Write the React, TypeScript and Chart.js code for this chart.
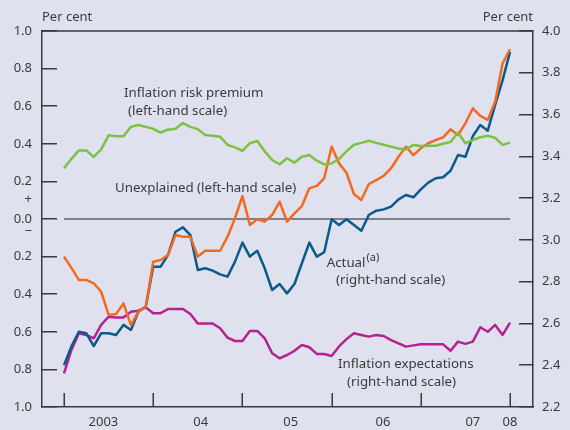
import React, { useEffect, useRef } from 'react';
import { Chart, registerables } from 'chart.js';

Chart.register(...registerables);

// Monthly observations, Jan 2003 (index 0) to Jan 2008 (index 60)
const monthIndex: number[] = Array.from({ length: 61 }, (_, i) => i);

// Left-hand scale, per cent
const riskPremium: number[] = [
  0.27, 0.32, 0.365, 0.365, 0.33, 0.37, 0.445, 0.44, 0.44, 0.49,
  0.5, 0.49, 0.48, 0.46, 0.475, 0.48, 0.51, 0.49, 0.478, 0.447,
  0.443, 0.438, 0.394, 0.381, 0.363, 0.403, 0.415, 0.36, 0.314, 0.291,
  0.323, 0.3, 0.331, 0.34, 0.31, 0.29, 0.295, 0.32, 0.36, 0.395,
  0.405, 0.416, 0.405, 0.395, 0.385, 0.375, 0.37, 0.394, 0.388, 0.39,
  0.39, 0.4, 0.41, 0.46, 0.403, 0.42, 0.435, 0.443, 0.432, 0.394,
  0.406,
];

const unexplained: number[] = [
  -0.2, -0.26, -0.324, -0.324, -0.342, -0.387, -0.51, -0.505, -0.449, -0.564,
  -0.493, -0.466, -0.227, -0.218, -0.191, -0.085, -0.094, -0.094, -0.2, -0.169,
  -0.169, -0.169, -0.094, 0.004, 0.122, -0.032, -0.002, -0.014, 0.021, 0.092,
  -0.014, 0.03, 0.069, 0.163, 0.176, 0.216, 0.385, 0.296, 0.246, 0.133,
  0.101, 0.186, 0.207, 0.229, 0.27, 0.331, 0.385, 0.34, 0.376, 0.403,
  0.42, 0.434, 0.477, 0.447, 0.509, 0.589, 0.548, 0.527, 0.624, 0.828,
  0.903,
];

// Right-hand scale, per cent
const actual: number[] = [
  2.4, 2.49, 2.56, 2.553, 2.492, 2.553, 2.553, 2.545, 2.593, 2.569,
  2.656, 2.68, 2.872, 2.872, 2.928, 3.039, 3.06, 3.023, 2.856, 2.864,
  2.853, 2.835, 2.824, 2.896, 2.987, 2.92, 2.948, 2.864, 2.76, 2.789,
  2.744, 2.789, 2.888, 2.987, 2.92, 2.941, 3.099, 3.071, 3.099, 3.071,
  3.044, 3.119, 3.14, 3.146, 3.159, 3.194, 3.215, 3.204, 3.242, 3.274,
  3.295, 3.3, 3.331, 3.406, 3.398, 3.497, 3.55, 3.523, 3.646, 3.765,
  3.9,
];

const expectations: number[] = [
  2.361, 2.473, 2.553, 2.545, 2.529, 2.593, 2.632, 2.629, 2.629, 2.656,
  2.661, 2.677, 2.649, 2.649, 2.669, 2.669, 2.669, 2.645, 2.6, 2.6,
  2.6, 2.577, 2.532, 2.516, 2.516, 2.564, 2.564, 2.529, 2.457, 2.433,
  2.449, 2.469, 2.497, 2.486, 2.454, 2.454, 2.444, 2.49, 2.525, 2.553,
  2.545, 2.537, 2.545, 2.54, 2.52, 2.505, 2.489, 2.495, 2.5, 2.5,
  2.5, 2.5, 2.469, 2.513, 2.502, 2.513, 2.582, 2.56, 2.593, 2.545,
  2.604,
];

const zeroLineMonths: number[] = [0, 60];

// Axis ticks
const yearStartTicks: number[] = [0, 12, 24, 36, 48, 60];
const yearLabelTicks: number[] = [5.3, 18.4, 30.5, 42.9, 55, 60];
const yearLabels: string[] = ['2003', '04', '05', '06', '07', '08'];

const leftTicks: number[] = [-1, -0.8, -0.6, -0.4, -0.2, 0, 0.2, 0.4, 0.6, 0.8, 1];
const leftSignTicks: number[] = [0.106, -0.064];
const leftSignLabels: string[] = ['+', '\u2212'];
const rightTicks: number[] = [2.2, 2.4, 2.6, 2.8, 3.0, 3.2, 3.4, 3.6, 3.8, 4.0];

const FONT = '"Noto Sans", "DejaVu Sans", sans-serif';
const TEXT = '#3a3a3a';
const AXIS = '#3a3a3a';
const BG = '#dfe1ee';

const near = (a: number, b: number) => Math.abs(a - b) < 1e-6;

// annotation anchors in data coordinates (x: month index, y: left-hand scale)
const notes = [
  { text: 'Inflation risk premium', x: 8.07, y: 0.67 },
  { text: '(left-hand scale)', x: 8.61, y: 0.574 },
  { text: 'Unexplained (left-hand scale)', x: 6.86, y: 0.165 },
  { text: 'Actual', x: 35.34, y: -0.234, sup: '(a)' },
  { text: '(right-hand scale)', x: 36.6, y: -0.324 },
  { text: 'Inflation expectations', x: 36.86, y: -0.771 },
  { text: '(right-hand scale)', x: 38.07, y: -0.867 },
];

export default function App() {
  const ref = useRef<HTMLCanvasElement>(null);

  useEffect(() => {
    if (!ref.current) return;
    const pts = (arr: number[]) => arr.map((v, i) => ({ x: monthIndex[i], y: v }));

    const textPlugin = {
      id: 'texts',
      afterDraw(chart: any) {
        const { ctx, chartArea, scales } = chart;
        ctx.save();
        ctx.strokeStyle = AXIS;
        ctx.lineWidth = 1.5;
        ctx.beginPath();
        ctx.moveTo(chartArea.left, chartArea.top);
        ctx.lineTo(chartArea.right, chartArea.top);
        ctx.stroke();
        // year-start tick marks on the time axis, pointing inwards
        ctx.beginPath();
        for (const t of yearStartTicks) {
          const px = Math.round(scales.x.getPixelForValue(t)) + 0.25;
          ctx.moveTo(px, chartArea.bottom);
          ctx.lineTo(px, chartArea.bottom - 14);
        }
        ctx.stroke();
        ctx.fillStyle = TEXT;
        ctx.font = `13px ${FONT}`;
        ctx.textBaseline = 'middle';
        ctx.textAlign = 'left';
        ctx.fillText('Per cent', chartArea.left, chartArea.top - 14);
        ctx.textAlign = 'right';
        ctx.fillText('Per cent', chartArea.right, chartArea.top - 14);
        ctx.textAlign = 'left';
        for (const n of notes) {
          const px = scales.x.getPixelForValue(n.x);
          const py = scales.yL.getPixelForValue(n.y);
          ctx.font = `13.3px ${FONT}`;
          ctx.fillText(n.text, px, py);
          if (n.sup) {
            const w = ctx.measureText(n.text).width;
            ctx.font = `11px ${FONT}`;
            ctx.fillText(n.sup, px + w + 1, py - 5);
          }
        }
        ctx.restore();
      },
    };

    const lineDs = (label: string, data: number[], color: string, axis: string, order: number) => ({
      label,
      data: pts(data),
      borderColor: color,
      backgroundColor: color,
      borderWidth: 2.5,
      pointRadius: 0,
      tension: 0,
      fill: false,
      borderJoinStyle: 'round' as const,
      yAxisID: axis,
      order,
    });

    const tickFont = { family: FONT, size: 13 };

    const chart = new Chart(ref.current, {
      type: 'line',
      data: {
        datasets: [
          {
            label: 'zero',
            data: zeroLineMonths.map((m) => ({ x: m, y: 0 })),
            borderColor: '#222',
            borderWidth: 1.2,
            pointRadius: 0,
            yAxisID: 'yL',
            order: 5,
          },
          lineDs('Inflation expectations', expectations, '#b5218e', 'yR', 4),
          lineDs('Actual', actual, '#0b5a8a', 'yR', 3),
          lineDs('Unexplained', unexplained, '#f26a22', 'yL', 2),
          lineDs('Inflation risk premium', riskPremium, '#7cc242', 'yL', 1),
        ],
      },
      options: {
        responsive: false,
        animation: false,
        layout: { padding: { top: 31, left: 0, right: 0, bottom: 0 } },
        plugins: { legend: { display: false }, tooltip: { enabled: false } },
        scales: {
          x: {
            type: 'linear',
            position: 'bottom',
            min: -2.96,
            max: 63.09,
            afterBuildTicks: (s: any) => {
              s.ticks = yearLabelTicks.map((v) => ({ value: v }));
            },
            afterFit: (s: any) => {
              s.height = 23;
              s.paddingLeft = 0;
              s.paddingRight = 0;
              s.paddingTop = 0;
              s.paddingBottom = 0;
            },
            ticks: {
              autoSkip: false,
              maxRotation: 0,
              padding: 7,
              font: tickFont,
              color: TEXT,
              callback: (v: any) => {
                const i = yearLabelTicks.findIndex((t) => near(t, Number(v)));
                return i >= 0 ? yearLabels[i] : '';
              },
            },
            grid: {
              display: false,
              drawOnChartArea: false,
              drawTicks: false,
            },
            border: { display: true, color: AXIS, width: 1.5 },
          },
          yL: {
            type: 'linear',
            position: 'left',
            min: -1,
            max: 1,
            afterBuildTicks: (s: any) => {
              const vals = [...leftTicks, ...leftSignTicks].sort((a, b) => a - b);
              s.ticks = vals.map((v) => ({ value: v }));
            },
            afterFit: (s: any) => {
              s.width = 42;
              s.paddingTop = 0;
              s.paddingBottom = 0;
              s.paddingLeft = 0;
              s.paddingRight = 0;
            },
            ticks: {
              autoSkip: false,
              padding: 25,
              font: tickFont,
              color: TEXT,
              callback: (v: any) => {
                const n = Number(v);
                const i = leftSignTicks.findIndex((t) => near(t, n));
                if (i >= 0) return leftSignLabels[i];
                return Math.abs(n).toFixed(1);
              },
            },
            grid: {
              drawOnChartArea: false,
              drawTicks: true,
              tickLength: -15,
              lineWidth: 1.5,
              color: (c: any) =>
                c.tick && leftSignTicks.some((t) => near(t, c.tick.value)) ? 'rgba(0,0,0,0)' : AXIS,
            },
            border: { display: true, color: AXIS, width: 1.5 },
          },
          yR: {
            type: 'linear',
            position: 'right',
            min: 2.2,
            max: 4.0,
            afterBuildTicks: (s: any) => {
              s.ticks = rightTicks.map((v) => ({ value: v }));
            },
            afterFit: (s: any) => {
              s.width = 37;
              s.paddingTop = 0;
              s.paddingBottom = 0;
              s.paddingLeft = 0;
              s.paddingRight = 0;
            },
            ticks: {
              autoSkip: false,
              padding: 23,
              font: tickFont,
              color: TEXT,
              callback: (v: any) => Number(v).toFixed(1),
            },
            grid: {
              drawOnChartArea: false,
              drawTicks: true,
              tickLength: -14,
              lineWidth: 1.5,
              color: AXIS,
            },
            border: { display: true, color: AXIS, width: 1.5 },
          },
        },
      },
      plugins: [textPlugin],
    });

    return () => chart.destroy();
  }, []);

  return (
    <div style={{ position: 'absolute', left: 0, top: 0, width: 570, height: 430, background: BG }}>
      <canvas ref={ref} width={570} height={430} style={{ display: 'block' }} />
    </div>
  );
}
